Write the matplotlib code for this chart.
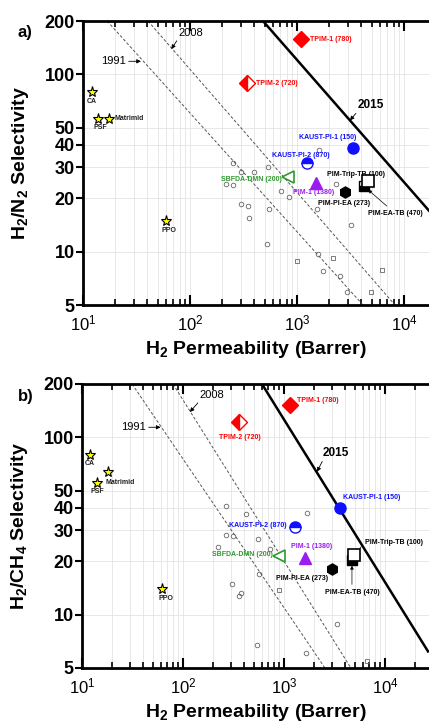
import matplotlib
matplotlib.use("Agg")
import matplotlib.pyplot as plt
from matplotlib.ticker import LogLocator, NullLocator, NullFormatter
import numpy as np

plt.rcParams['font.family'] = ['Liberation Sans', 'DejaVu Sans']
plt.rcParams['mathtext.fontset'] = 'custom'
plt.rcParams['mathtext.bf'] = 'Liberation Sans:bold'
plt.rcParams['mathtext.rm'] = 'Liberation Sans:bold'
plt.rcParams['mathtext.default'] = 'bf'

# ---------------- panel a: H2/N2 ----------------
a_open_c_x = [1607, 252, 300, 396, 536, 217, 252, 708, 842, 2313, 300, 348, 547, 356,
              1538, 3197, 525, 1571, 1750, 2523, 2933]
a_open_c_y = [37.5, 31.6, 28.1, 28.1, 30.0, 24.0, 23.7, 21.9, 20.3, 24.0, 18.5, 18.0, 17.3, 15.4,
              17.5, 14.1, 11.1, 9.7, 7.8, 7.3, 5.9]
a_open_s_x = [1000, 2170, 6230, 4920]
a_open_s_y = [8.9, 9.2, 7.9, 5.9]

a_star_names = ['CA', 'PSF', 'Matrimid', 'PPO']
a_star_x = [12.1, 13.8, 17.5, 59.7]
a_star_y = [80, 56.2, 56.2, 14.8]

a_names = ['TPIM-1 (780)', 'TPIM-2 (720)', 'KAUST-PI-1 (150)', 'KAUST-PI-2 (870)',
           'SBFDA-DMN (200)', 'PIM-1 (1380)', 'PIM-PI-EA (273)', 'PIM-EA-TB (470)',
           'PIM-Trip-TB (100)']
a_x = [1090, 341, 3337, 1240, 824, 1506, 2810, 4230, 4610]
a_y = [158, 89, 38.5, 31.6, 26.3, 24.3, 21.6, 23.4, 25.0]

a_1991 = ([16.8, 4140], [200, 5])
a_2008 = ([40.5, 8240], [200, 5])
a_2015 = ([481, 20000], [200, 15.3])

# ---------------- panel b: H2/CH4 ----------------
b_open_c_x = [1690, 267, 421, 267, 313, 553, 727, 222, 565, 306, 358, 375, 3350, 540, 1652]
b_open_c_y = [37.5, 41.1, 37.0, 28.1, 27.7, 26.7, 23.4, 24.0, 16.9, 14.8, 12.8, 13.2, 8.8, 6.75, 6.1]
b_open_s_x = [892, 6637]
b_open_s_y = [13.7, 5.5]

b_star_names = ['CA', 'PSF', 'Matrimid', 'PPO']
b_star_x = [12.0, 14.1, 18.1, 62]
b_star_y = [80, 55.5, 64, 13.9]

b_names = a_names
b_x = [1146, 358, 3583, 1285, 892, 1614, 2985, 4710, 4930]
b_y = [152, 122, 40, 31.2, 21.3, 20.8, 18.0, 20.3, 21.6]

b_1991 = ([31.3, 2547], [200, 5])
b_2008 = ([79.6, 4600], [200, 5])
b_2015 = ([605, 26700], [200, 6.2])

RED = '#ff0000'
BLUE = '#1010ff'
GREEN = '#2e9a2e'
PURPLE = '#9b1cf0'

styles = [
    dict(marker='D', color=RED, ms=8),
    dict(marker='D', color=RED, ms=8, fillstyle='left', markerfacecoloralt='white'),
    dict(marker='o', color=BLUE, ms=8),
    dict(marker='o', color=BLUE, ms=8, fillstyle='top', markerfacecoloralt='white'),
    dict(marker='<', color=GREEN, ms=8, mfc='white', mew=1.2),
    dict(marker='^', color=PURPLE, ms=9),
    dict(marker='h', color='black', ms=8),
    dict(marker='s', color='black', ms=7, fillstyle='bottom', markerfacecoloralt='white'),
    dict(marker='s', color='black', ms=8, mfc='white', mew=1.2),
]
label_colors = [RED, RED, BLUE, BLUE, GREEN, PURPLE, 'black', 'black', 'black']

# label offsets in pixels (dx, dy) and horizontal alignment
a_offs = [(9, 0, 'left'), (9, 0, 'left'), (-25, 10, 'center'), (-6, 8, 'center'),
          (-6, -2, 'right'), (-2, -9, 'center'), (-1, -11, 'center'), (31, -27, 'center'),
          (-12, 7, 'center')]
b_offs = [(7, 5, 'left'), (1, -15, 'center'), (3, 10, 'left'), (-8, 2, 'right'),
          (-6, 2, 'right'), (7, 12, 'center'), (-30, -9, 'center'), (0, -32, 'center'),
          (11, 13, 'left')]
a_star_offs = [(0, -10, 'center'), (2, -9, 'center'), (5, 0, 'left'), (3, -9, 'center')]
b_star_offs = [(0, -9, 'center'), (0, -9, 'center'), (-3, -11, 'left'), (4, -9, 'center')]


def draw_panel(ax, oc, os_, stars, pts, lines, offs, star_offs, xmax, ylab, years):
    ax.set_xscale('log')
    ax.set_yscale('log')
    ax.set_xlim(10, xmax)
    ax.set_ylim(5, 200)

    ax.plot(oc[0], oc[1], 'o', ms=3.3, mfc='none', mec='#666666', mew=0.6, ls='none')
    ax.plot(os_[0], os_[1], 's', ms=3.0, mfc='none', mec='#666666', mew=0.6, ls='none')

    for (lx, ly), lw, ls in zip(lines, [0.7, 0.7, 1.8], [(0, (3, 2)), (0, (3, 2)), '-']):
        ax.plot(lx, ly, color='#555555' if lw < 1 else 'black', lw=lw, ls=ls)

    for name, x, y, (dx, dy, ha) in zip(stars[0], stars[1], stars[2], star_offs):
        ax.plot(x, y, '*', ms=8, mfc='#ffff00', mec='black', mew=0.8)
        ax.annotate(name, (x, y), xytext=(dx, dy), textcoords='offset pixels',
                    ha=ha, va='center', fontsize=5, fontweight='bold', color='#222222')

    for i, (name, x, y) in enumerate(zip(pts[0], pts[1], pts[2])):
        ax.plot(x, y, ls='none', zorder=5, **styles[i])
        dx, dy, ha = offs[i]
        kw = dict(xytext=(dx, dy), textcoords='offset pixels', ha=ha, va='center',
                  fontsize=5, fontweight='bold', color=label_colors[i])
        if name.startswith('PIM-EA-TB'):
            kw['arrowprops'] = dict(arrowstyle='-|>', lw=0.5, color='black',
                                    mutation_scale=5, shrinkA=1, shrinkB=4)
        elif name.startswith('PIM-Trip-TB') and dx > 0:
            kw['arrowprops'] = dict(arrowstyle='-', lw=0.5, color='black',
                                    shrinkA=1, shrinkB=4, relpos=(0, 0.5))
        ax.annotate(name, (x, y), **kw)

    for txt, xy, xyt, ha, bold, rel in years:
        ax.annotate(txt, xy, xytext=xyt, ha=ha, va='center',
                    fontsize=8.5 if bold else 8, fontweight='bold' if bold else 'normal',
                    arrowprops=dict(arrowstyle='-|>', lw=0.6, color='black',
                                    mutation_scale=6, shrinkA=0, shrinkB=0, relpos=rel))

    ax.set_yticks([5, 10, 20, 30, 40, 50, 100, 200])
    ax.set_yticklabels(['5', '10', '20', '30', '40', '50', '100', '200'])
    ax.yaxis.set_minor_locator(NullLocator())
    ax.xaxis.set_major_locator(LogLocator(base=10, numticks=10))
    ax.xaxis.set_minor_locator(LogLocator(base=10, subs=np.arange(2, 10), numticks=10))
    ax.xaxis.set_minor_formatter(NullFormatter())

    ax.grid(True, which='major', axis='y', color='#e4e4e4', lw=0.6)
    ax.grid(True, which='both', axis='x', color='#e4e4e4', lw=0.6)
    ax.set_axisbelow(True)

    ax.tick_params(axis='x', which='both', direction='in', top=True, bottom=True,
                   labelsize=12, width=1.5, pad=6)
    ax.tick_params(axis='x', which='major', length=7)
    ax.tick_params(axis='x', which='minor', length=4, width=1.2)
    ax.tick_params(axis='y', which='major', direction='out', length=5, width=1.5,
                   labelsize=13, pad=1)
    for lab in ax.get_yticklabels():
        lab.set_fontweight('bold')
    for s in ['left', 'top', 'bottom']:
        ax.spines[s].set_linewidth(2)
    ax.spines['right'].set_visible(False)

    ax.set_xlabel('H$_2$ Permeability (Barrer)', fontsize=14, fontweight='bold', labelpad=4)
    ax.set_ylabel(ylab, fontsize=14, fontweight='bold')
    ax.yaxis.set_label_coords(-0.15, 0.5)


fig = plt.figure(figsize=(4.29, 7.22), dpi=100)
axa = fig.add_axes([83 / 429, 1 - 305 / 722, 346 / 429, 284 / 722])
axb = fig.add_axes([82 / 429, 1 - 668 / 722, 347 / 429, 284 / 722])

years_a = [
    ('1991', (34.8, 118.5), (25.2, 118.5), 'right', False, (1, 0.5)),
    ('2008', (67, 139), (77.3, 171), 'left', False, (0.05, 0.1)),
    ('2015', (3126, 55), (3715, 67.5), 'left', True, (0.05, 0.1)),
]
years_b = [
    ('1991', (60, 114), (43, 114), 'right', False, (1, 0.5)),
    ('2008', (117, 139), (147, 173), 'left', False, (0.05, 0.1)),
    ('2015', (2124, 64), (2432, 82), 'left', True, (0.05, 0.1)),
]

draw_panel(axa, (a_open_c_x, a_open_c_y), (a_open_s_x, a_open_s_y),
           (a_star_names, a_star_x, a_star_y), (a_names, a_x, a_y),
           [a_1991, a_2008, a_2015], a_offs, a_star_offs, 10 ** 4.234,
           'H$_2$/N$_2$ Selectivity', years_a)
draw_panel(axb, (b_open_c_x, b_open_c_y), (b_open_s_x, b_open_s_y),
           (b_star_names, b_star_x, b_star_y), (b_names, b_x, b_y),
           [b_1991, b_2008, b_2015], b_offs, b_star_offs, 10 ** 4.436,
           'H$_2$/CH$_4$ Selectivity', years_b)

fig.text(18 / 429, 1 - 33 / 722, 'a)', fontsize=12, fontweight='bold', ha='left', va='center')
fig.text(18 / 429, 1 - 397 / 722, 'b)', fontsize=12, fontweight='bold', ha='left', va='center')

fig.savefig('out.png', dpi=100)
